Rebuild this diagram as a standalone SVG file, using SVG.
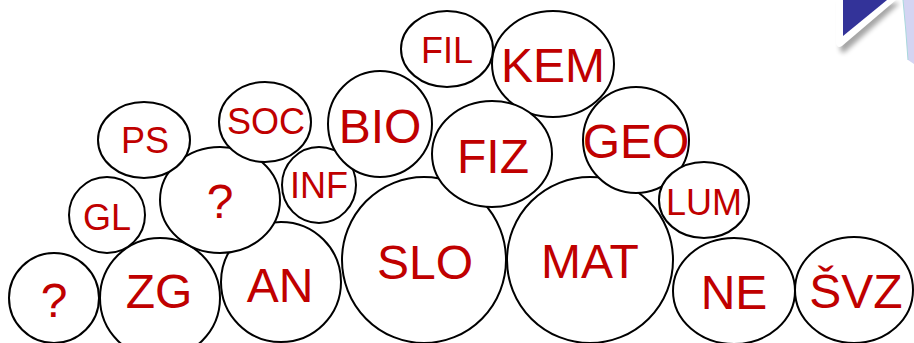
<svg xmlns="http://www.w3.org/2000/svg" width="914" height="343" viewBox="0 0 914 343">
<defs>
<style>
.n ellipse{fill:#fff;stroke:#000;stroke-width:2}
.n text{fill:#C00000;font-family:"Liberation Sans",Arial,sans-serif;text-anchor:middle}
.b{font-size:48px}
.s{font-size:36px}
</style>
<filter id="sh" x="-30%" y="-30%" width="160%" height="160%"><feGaussianBlur stdDeviation="2.5"/></filter>
</defs>
<rect width="914" height="343" fill="#fff"/>
<g id="corner">
<path d="M903,0 Q906,30 908,60 L914,64 L914,0 Z" fill="#d4d4f2"/>
<path d="M903,0 Q906,30 908,60" fill="none" stroke="#a8d8dc" stroke-width="1"/>
<path d="M840,3 L900,3 L845,52 Q841,54 840,49 Z" fill="#000" opacity="0.35" filter="url(#sh)"/>
<path d="M836,0 L896,0 L842,46 Q837,49 836,43 Z" fill="#fff"/>
<path d="M843,0 L887,0 L843,36 Z" fill="#333399"/>
</g>
<g id="q1" class="n"><ellipse cx="54" cy="298" rx="45" ry="45"/><text class="b" x="54" y="317">?</text></g>
<g id="zg" class="n"><ellipse cx="160" cy="298" rx="60" ry="60"/><text class="b" x="159" y="308">ZG</text></g>
<g id="an" class="n"><ellipse cx="281" cy="282" rx="60" ry="60"/><text class="b" x="280" y="302">AN</text></g>
<g id="gl" class="n"><ellipse cx="107" cy="215" rx="38" ry="38"/><text class="s" x="107" y="230">GL</text></g>
<g id="q2" class="n"><ellipse cx="220" cy="200" rx="60" ry="53"/><text class="b" x="220" y="218">?</text></g>
<g id="ps" class="n"><ellipse cx="144" cy="140" rx="46" ry="38"/><text class="s" x="145" y="153">PS</text></g>
<g id="soc" class="n"><ellipse cx="265" cy="122" rx="46" ry="40"/><text class="s" x="266" y="134">SOC</text></g>
<g id="inf" class="n"><ellipse cx="319" cy="185" rx="37" ry="38"/><text class="s" x="319" y="198">INF</text></g>
<g id="bio" class="n"><ellipse cx="380" cy="124" rx="52" ry="53"/><text class="b" x="380" y="143">BIO</text></g>
<g id="fil" class="n"><ellipse cx="447" cy="49" rx="46" ry="38"/><text class="s" x="447" y="63">FIL</text></g>
<g id="kem" class="n"><ellipse cx="553" cy="64" rx="61" ry="53"/><text class="b" x="553" y="82">KEM</text></g>
<g id="slo" class="n"><ellipse cx="424" cy="260" rx="82" ry="83"/><text class="b" x="425" y="279">SLO</text></g>
<g id="fiz" class="n"><ellipse cx="492" cy="154" rx="60" ry="53"/><text class="b" x="493" y="173">FIZ</text></g>
<g id="mat" class="n"><ellipse cx="590" cy="260" rx="83" ry="83"/><text class="b" x="590" y="278">MAT</text></g>
<g id="geo" class="n"><ellipse cx="636" cy="140" rx="53" ry="53"/><text class="b" x="636" y="158">GEO</text></g>
<g id="lum" class="n"><ellipse cx="704" cy="200" rx="45" ry="38"/><text class="s" x="704" y="215">LUM</text></g>
<g id="ne" class="n"><ellipse cx="734" cy="291" rx="61" ry="53"/><text class="b" x="734" y="309">NE</text></g>
<g id="svz" class="n"><ellipse cx="854" cy="290" rx="59" ry="53"/><text class="b" x="856" y="308">ŠVZ</text></g>
<g id="connectors"></g>
</svg>
